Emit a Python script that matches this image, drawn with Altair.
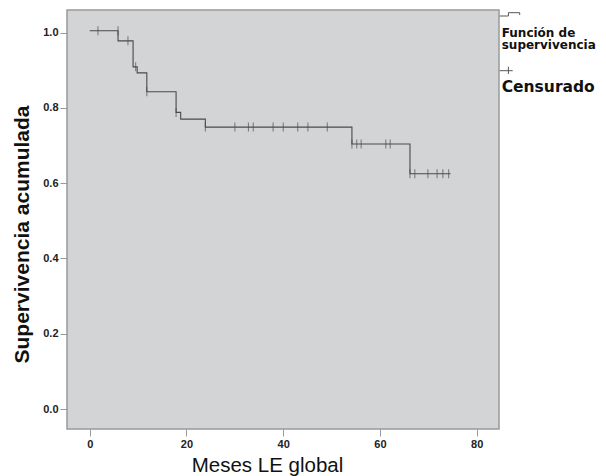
import altair as alt
import pandas as pd

# Kaplan-Meier step curve (time in months, cumulative survival)
step_time = [0, 5.85, 8.96, 9.8, 11.8, 17.85, 18.8, 23.9, 54.2, 66.2, 74.6]
step_surv = [1.005, 0.978, 0.909, 0.893, 0.843, 0.788, 0.770, 0.749, 0.704, 0.625, 0.625]

# Censored observations
cens_time = [1.7, 5.85, 7.9, 9.5, 11.8, 17.85, 23.9, 30.0, 32.8, 33.8, 37.9, 40.0,
             43.0, 45.1, 49.1, 54.2, 55.2, 56.1, 61.2, 62.1, 66.2, 67.2, 69.9,
             71.8, 73.0, 74.2]
cens_surv = [1.005, 1.005, 0.978, 0.909, 0.843, 0.788, 0.749, 0.749, 0.749, 0.749,
             0.749, 0.749, 0.749, 0.749, 0.749, 0.704, 0.704, 0.704, 0.704, 0.704,
             0.625, 0.625, 0.625, 0.625, 0.625, 0.625]

x_ticks = [0, 20, 40, 60, 80]
y_ticks = [0.0, 0.2, 0.4, 0.6, 0.8, 1.0]

W, H = 432, 419
FONT = "Liberation Sans"
LFONT = "DejaVu Sans"
LINE = "#4a4a4a"

curve_df = pd.DataFrame({"t": step_time, "s": step_surv})
cens_df = pd.DataFrame({"t": cens_time, "s": cens_surv})

xscale = alt.Scale(domain=[-4.7, 84.6], nice=False, zero=False)
yscale = alt.Scale(domain=[-0.053, 1.06], nice=False, zero=False)

xaxis = alt.Axis(values=x_ticks, format="d", title="Meses LE global", grid=False,
                 domain=False, tickColor="#999999", tickSize=7, labelFontWeight="bold",
                 labelFontSize=11, labelColor="#222222", labelPadding=2, labelFont=FONT,
                 titleFont=FONT, titleFontSize=20.5, titleFontWeight="normal",
                 titleColor="#111111", titleX=200, titleY=36, titleBaseline="middle",
                 titleAlign="center")
yaxis = alt.Axis(values=y_ticks, format=".1f", title="Supervivencia acumulada", grid=False,
                 domain=False, tickColor="#999999", tickSize=7, labelFontWeight="bold",
                 labelFontSize=11, labelColor="#222222", labelPadding=2, labelFont=FONT,
                 titleFont=FONT, titleFontSize=21, titleFontWeight="bold",
                 titleColor="#111111", titleX=-45, titleY=224, titleBaseline="middle",
                 titleAlign="center", titleAngle=270)

curve = alt.Chart(curve_df).mark_line(interpolate="step-after", color=LINE, strokeWidth=1.1).encode(
    x=alt.X("t:Q", scale=xscale, axis=xaxis),
    y=alt.Y("s:Q", scale=yscale, axis=yaxis),
)

cens = alt.Chart(cens_df).mark_tick(orient="vertical", color=LINE, size=9, thickness=1).encode(
    x=alt.X("t:Q", scale=xscale),
    y=alt.Y("s:Q", scale=yscale),
)

def seg(x1, x2, y1, y2):
    return alt.Chart(pd.DataFrame({"a": [0]})).mark_rule(color="#555555", strokeWidth=1).encode(
        x=alt.value(x1), x2=alt.value(x2), y=alt.value(y1), y2=alt.value(y2))

legend_marks = [
    seg(432.7, 441.4, 6, 6),
    seg(441.4, 441.4, 6, 2.7),
    seg(441.4, 452.7, 2.7, 2.7),
    seg(452.7, 452.7, 2.7, 5),
    seg(432.7, 445.7, 60.7, 60.7),
    seg(441.4, 441.4, 56.7, 64),
]

def label(txt, x, y, size):
    return alt.Chart(pd.DataFrame({"a": [0]})).mark_text(
        text=txt, align="left", baseline="middle", font=LFONT, fontWeight="bold",
        fontSize=size, color="#111111").encode(x=alt.value(x), y=alt.value(y))

legend_text = [
    label("Función de", 434.7, 22.5, 12),
    label("supervivencia", 434.7, 35, 12),
    label("Censurado", 434.7, 77, 15.5),
]

chart = alt.layer(curve, cens, *legend_marks, *legend_text).properties(
    width=W, height=H,
    autosize=alt.AutoSizeParams(type="none"),
    padding={"left": 59, "top": 2, "right": 99, "bottom": 47},
    background="white",
).configure_view(fill="#d3d4d6", stroke="#999999", strokeWidth=1.5)

chart.save("out.html", embed_options={"renderer": "svg", "actions": False})
